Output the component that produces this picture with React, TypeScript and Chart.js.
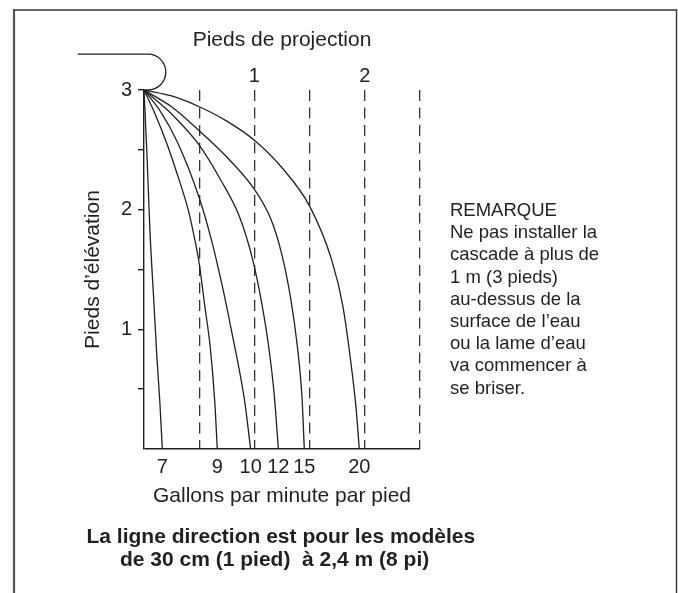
import React, { useEffect, useRef } from 'react';
import { Chart, registerables } from 'chart.js';

Chart.register(...registerables);

const FONT = '"Liberation Sans", Arial, Helvetica, sans-serif';
const INK = '#231f20';

// Flow rate (gallons per minute per foot) of each falling sheet
const flowLabels = ['7', '9', '10', '12', '15', '20'];

// Horizontal projection (feet) and elevation (feet) along each sheet
const proj7 = [0, 0.025, 0.055, 0.088, 0.118, 0.143, 0.166];
const elev7 = [3, 2.5, 1.8, 1.25, 0.75, 0.4, 0];
const proj9 = [0, 0.1, 0.2, 0.3, 0.4, 0.46, 0.5, 0.55, 0.6, 0.64, 0.664];
const elev9 = [3, 2.8, 2.57, 2.3, 2.0, 1.75, 1.55, 1.2, 0.85, 0.41, 0];
const proj10 = [0, 0.15, 0.3, 0.5, 0.61, 0.7, 0.79, 0.91, 0.966];
const elev10 = [3, 2.82, 2.57, 2.1, 1.75, 1.4, 1.0, 0.41, 0];
const proj12 = [0, 0.25, 0.5, 0.7, 0.865, 0.985, 1.07, 1.13, 1.18, 1.217];
const elev12 = [3, 2.8, 2.54, 2.24, 1.94, 1.58, 1.2, 0.85, 0.45, 0];
const proj15 = [0, 0.25, 0.5, 0.75, 1.0, 1.15, 1.25, 1.33, 1.39, 1.43, 1.452];
const elev15 = [3, 2.86, 2.66, 2.44, 2.17, 1.92, 1.62, 1.25, 0.85, 0.45, 0];
const proj20 = [0, 0.25, 0.5, 0.75, 1.0, 1.25, 1.5, 1.7, 1.8, 1.87, 1.92, 1.95];
const elev20 = [3, 2.95, 2.86, 2.74, 2.58, 2.35, 2.03, 1.58, 1.2, 0.75, 0.35, 0];

const projections = [proj7, proj9, proj10, proj12, proj15, proj20];
const elevations = [elev7, elev9, elev10, elev12, elev15, elev20];

// Axis labels
const elevationLabels = [1, 2, 3];
const projectionLabels = [1, 2];

const remarkLines = [
  'REMARQUE',
  'Ne pas installer la',
  'cascade à plus de',
  '1 m (3 pieds)',
  'au-dessus de la',
  'surface de l’eau',
  'ou la lame d’eau',
  'va commencer à',
  'se briser.',
];

const flowEnds = projections.map((p) => p[p.length - 1]);

const framePlugin = {
  id: 'frameAndNozzle',
  afterDraw(chart: any) {
    const { ctx } = chart;
    const xs = chart.scales.x;
    const ys = chart.scales.y;
    ctx.save();
    // outer frame
    ctx.strokeStyle = '#555';
    ctx.lineWidth = 2.2;
    ctx.beginPath();
    ctx.moveTo(14, 593);
    ctx.lineTo(14, 10);
    ctx.stroke();
    ctx.strokeStyle = '#333';
    ctx.lineWidth = 1.4;
    ctx.beginPath();
    ctx.moveTo(13, 10);
    ctx.lineTo(676.5, 10);
    ctx.lineTo(676.5, 593);
    ctx.stroke();

    // nozzle outline
    const x0 = xs.getPixelForValue(0);
    const y0 = ys.getPixelForValue(3);
    const yTop = ys.getPixelForValue(3.3);
    const r = (y0 - yTop) / 2;
    const cx = xs.getPixelForValue(0.035);
    ctx.strokeStyle = INK;
    ctx.lineWidth = 1.3;
    ctx.beginPath();
    ctx.moveTo(xs.getPixelForValue(-0.6), yTop);
    ctx.lineTo(cx, yTop);
    ctx.arc(cx, yTop + r, r, -Math.PI / 2, Math.PI / 2, false);
    ctx.lineTo(x0, y0);
    ctx.stroke();
    ctx.restore();
  },
};

export default function App() {
  const ref = useRef<HTMLCanvasElement>(null);

  useEffect(() => {
    const canvas = ref.current;
    if (!canvas) return;
    const datasets = projections.map((p, i) => ({
      label: flowLabels[i],
      data: p.map((x, j) => ({ x, y: elevations[i][j] })),
      showLine: true,
      pointRadius: 0,
      borderColor: INK,
      borderWidth: 1.3,
      cubicInterpolationMode: 'monotone' as const,
      xAxisID: 'x',
      yAxisID: 'y',
    }));

    const chart = new Chart(canvas, {
      type: 'scatter',
      data: { datasets },
      plugins: [framePlugin],
      options: {
        responsive: false,
        animation: false,
        events: [],
        layout: { padding: { left: 81, right: 258, top: 20, bottom: 84 } },
        plugins: { legend: { display: false }, tooltip: { enabled: false } },
        scales: {
          x: {
            type: 'linear',
            position: 'top',
            min: 0,
            max: 2.5,
            afterFit: (s: any) => {
              s.height = 70;
            },
            ticks: {
              stepSize: 0.5,
              autoSkip: false,
              maxRotation: 0,
              padding: 2,
              color: INK,
              font: { family: FONT, size: 20 },
              callback: (v: any) => (projectionLabels.includes(v) ? String(v) : ''),
            },
            grid: {
              drawTicks: false,
              lineWidth: 1.3,
              color: (c: any) => (c.tick && c.tick.value > 0 ? '#333' : 'rgba(0,0,0,0)'),
            },
            border: { display: false, dash: [11, 6.5] },
            title: {
              display: true,
              text: 'Pieds de projection',
              color: INK,
              font: { family: FONT, size: 21 },
              padding: { top: 7.4, bottom: 0 },
            },
          },
          x2: {
            type: 'linear',
            axis: 'x',
            position: 'bottom',
            min: 0,
            max: 2.5,
            afterFit: (s: any) => {
              s.height = 60;
            },
            afterBuildTicks: (s: any) => {
              s.ticks = flowEnds.map((v) => ({ value: v }));
            },
            ticks: {
              autoSkip: false,
              maxRotation: 0,
              padding: 6,
              color: INK,
              font: { family: FONT, size: 20 },
              callback: (_v: any, i: number) => flowLabels[i],
            },
            grid: { display: false, drawTicks: false, tickLength: 0 },
            border: { display: false },
            title: {
              display: true,
              text: 'Gallons par minute par pied',
              color: INK,
              font: { family: FONT, size: 21 },
              padding: { top: 0, bottom: 0 },
            },
          },
          y: {
            type: 'linear',
            position: 'left',
            min: 0,
            max: 3,
            afterFit: (s: any) => {
              s.width = 63;
            },
            ticks: {
              stepSize: 0.5,
              autoSkip: false,
              padding: 6,
              color: INK,
              font: { family: FONT, size: 20 },
              callback: (v: any) => (elevationLabels.includes(v) ? String(v) : ''),
            },
            grid: {
              drawOnChartArea: true,
              drawTicks: true,
              tickLength: 6,
              lineWidth: 1.4,
              color: (c: any) => (c.tick && c.tick.value === 0 ? INK : 'rgba(0,0,0,0)'),
              tickColor: (c: any) => (c.tick && c.tick.value === 0 ? 'rgba(0,0,0,0)' : INK),
            },
            border: { display: true, color: INK, width: 1.4 },
            title: {
              display: true,
              text: 'Pieds d’élévation',
              color: INK,
              font: { family: FONT, size: 21 },
              padding: { top: 0, bottom: 0 },
            },
          },
        },
      } as any,
    });
    return () => chart.destroy();
  }, []);

  return (
    <div
      style={{
        position: 'absolute',
        left: 0,
        top: 0,
        width: 678,
        height: 593,
        background: '#fff',
        overflow: 'hidden',
        fontFamily: FONT,
        color: INK,
      }}
    >
      <canvas ref={ref} width={678} height={593} style={{ position: 'absolute', left: 0, top: 0 }} />
      <div
        style={{
          position: 'absolute',
          left: 450,
          top: 199,
          fontSize: 18.5,
          lineHeight: '22.2px',
          whiteSpace: 'pre',
        }}
      >
        {remarkLines.map((l) => (
          <div key={l}>{l}</div>
        ))}
      </div>
      <div
        style={{
          position: 'absolute',
          left: 86.5,
          top: 523.5,
          fontSize: 21,
          fontWeight: 'bold',
          lineHeight: '24px',
          whiteSpace: 'pre',
        }}
      >
        La ligne direction est pour les modèles
      </div>
      <div
        style={{
          position: 'absolute',
          left: 120,
          top: 546.5,
          fontSize: 21,
          fontWeight: 'bold',
          lineHeight: '24px',
          whiteSpace: 'pre',
        }}
      >
        {'de 30 cm (1 pied)  à 2,4 m (8 pi)'}
      </div>
    </div>
  );
}
